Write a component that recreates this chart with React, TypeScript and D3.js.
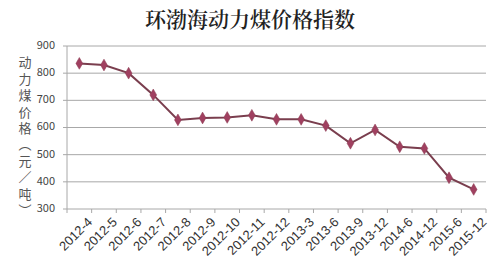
import React from "react";
import * as d3 from "d3";

const categories = ["2012-4","2012-5","2012-6","2012-7","2012-8","2012-9","2012-10","2012-11","2012-12","2013-3","2013-6","2013-9","2013-12","2014-6","2014-12","2015-6","2015-12"];
const values = [836, 830, 800, 720, 628, 635, 637, 645, 630, 630, 607, 542, 591, 529, 523, 415, 372];
const yTicks = [300, 400, 500, 600, 700, 800, 900];
const title = "环渤海动力煤价格指数";
const yLabel = "动力煤价格（元／吨）";

export default function App() {
  const W = 500, H = 266;
  const left = 67, right = 486, top = 46, bottom = 209;
  const x = d3.scaleBand<string>().domain(categories).range([left, right]);
  const y = d3.scaleLinear().domain([300, 900]).range([bottom, top]);
  const line = d3.line<number>()
    .x((_, i) => (x(categories[i]) as number) + x.bandwidth() / 2)
    .y((d) => y(d));
  const diamond = d3.symbol().type(d3.symbolDiamond).size(40)() as string;
  const font = "'Noto Sans CJK SC', 'Liberation Sans', sans-serif";
  return (
    <svg width={W} height={H} style={{ position: "absolute", left: 0, top: 0, background: "#fff" }} fontFamily={font}>
      <text x={250} y={27} textAnchor="middle" fontSize={21} fontWeight={600} fill="#222" fontFamily="'Noto Serif CJK SC', 'Noto Sans CJK SC', serif">{title}</text>
      <text x={25} y={56} fontSize={13} fill="#555" letterSpacing={3.4}
        style={{ writingMode: "vertical-rl", textOrientation: "upright" } as any}>{yLabel}</text>
      {yTicks.map((t) => (
        <g key={t}>
          {t !== 300 && <line x1={left} x2={right} y1={y(t)} y2={y(t)} stroke="#a8a8a8" strokeWidth={1} />}
          <line x1={left - 4} x2={left} y1={y(t)} y2={y(t)} stroke="#a8a8a8" />
          <text x={55} y={y(t)} textAnchor="end" dominantBaseline="middle" fontSize={11} fill="#444">{t}</text>
        </g>
      ))}
      <line x1={left} x2={left} y1={top} y2={bottom} stroke="#a8a8a8" />
      <line x1={left} x2={right} y1={bottom} y2={bottom} stroke="#a8a8a8" />
      {x.domain().map((c) => (
        <line key={"t" + c} x1={x(c) as number} x2={x(c) as number} y1={bottom} y2={bottom + 4} stroke="#a8a8a8" />
      ))}
      <line x1={right} x2={right} y1={bottom} y2={bottom + 4} stroke="#a8a8a8" />
      {categories.map((c) => {
        const cx = (x(c) as number) + x.bandwidth() / 2 + 7;
        const cy = bottom + 7;
        return (
          <text key={"l" + c} x={cx} y={cy} textAnchor="end" dominantBaseline="hanging" fontSize={13} fill="#333" fontFamily="'Liberation Sans', sans-serif" transform={`rotate(-45 ${cx} ${cy})`}>{c}</text>
        );
      })}
      <path d={line(values) as string} fill="none" stroke="#7a3e4e" strokeWidth={2} />
      {values.map((v, i) => (
        <path key={"m" + i} d={diamond} transform={`translate(${(x(categories[i]) as number) + x.bandwidth() / 2},${y(v)})`} fill="#a04060" stroke="#8a3a50" strokeWidth={0.5} />
      ))}
    </svg>
  );
}
